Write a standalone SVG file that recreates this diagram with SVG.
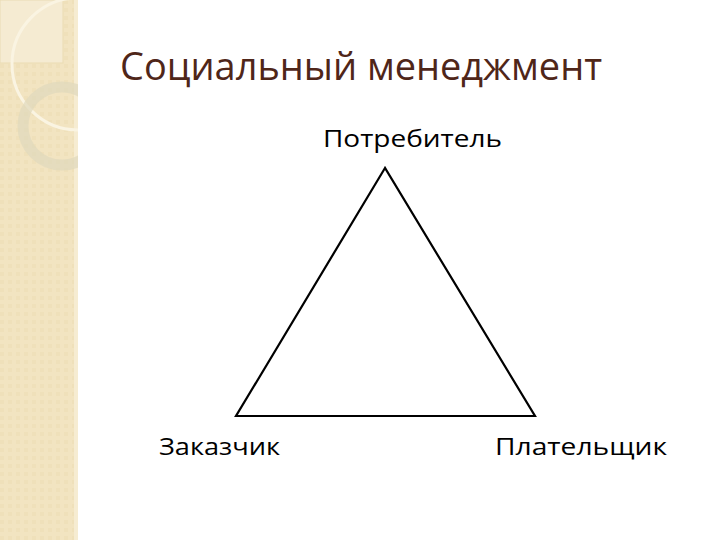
<svg xmlns="http://www.w3.org/2000/svg" width="720" height="540" viewBox="0 0 720 540">
<style>
.lbl{font-family:"Open Sans","Noto Sans","DejaVu Sans",sans-serif;font-size:23px;fill:#000}
.title{font-family:"Open Sans","Noto Sans","DejaVu Sans",sans-serif;font-size:38px;fill:#4f2619}
.edge{stroke:#000;stroke-width:2.2;fill:none}
</style>
<defs>
<clipPath id="band"><rect x="0" y="0" width="78" height="540"/></clipPath>
<pattern id="tex" width="8" height="8" patternUnits="userSpaceOnUse">
<rect width="8" height="8" fill="#F2E4C1"/>
<rect width="4" height="4" fill="#EFE0BA"/>
</pattern>
</defs>
<rect width="720" height="540" fill="#fff"/>
<g id="decor">
<rect x="0" y="0" width="78" height="540" fill="url(#tex)"/>
<rect x="74" y="0" width="4" height="540" fill="#F6ECD2"/>
<rect x="0" y="0" width="63" height="63" fill="#F5EBD2" stroke="#EADBB3" stroke-width="1"/>
<g clip-path="url(#band)">
<circle cx="78" cy="64" r="66" fill="none" stroke="#FAF4E2" stroke-width="3"/>
<circle cx="62" cy="126" r="39" fill="none" stroke="#E0D8BC" stroke-width="11" opacity="0.7"/>
</g>
</g>
<text id="title" class="title" x="120" y="80" textLength="482" lengthAdjust="spacingAndGlyphs">Социальный менеджмент</text>
<g id="connectors">
<polygon class="edge" points="385,168 236,416 535,416"/>
</g>
<g id="node-consumer"><text class="lbl" x="323" y="147" textLength="179" lengthAdjust="spacingAndGlyphs">Потребитель</text></g>
<g id="node-customer"><text class="lbl" x="159" y="455" textLength="121" lengthAdjust="spacingAndGlyphs">Заказчик</text></g>
<g id="node-payer"><text class="lbl" x="495" y="455" textLength="172" lengthAdjust="spacingAndGlyphs">Плательщик</text></g>
</svg>
